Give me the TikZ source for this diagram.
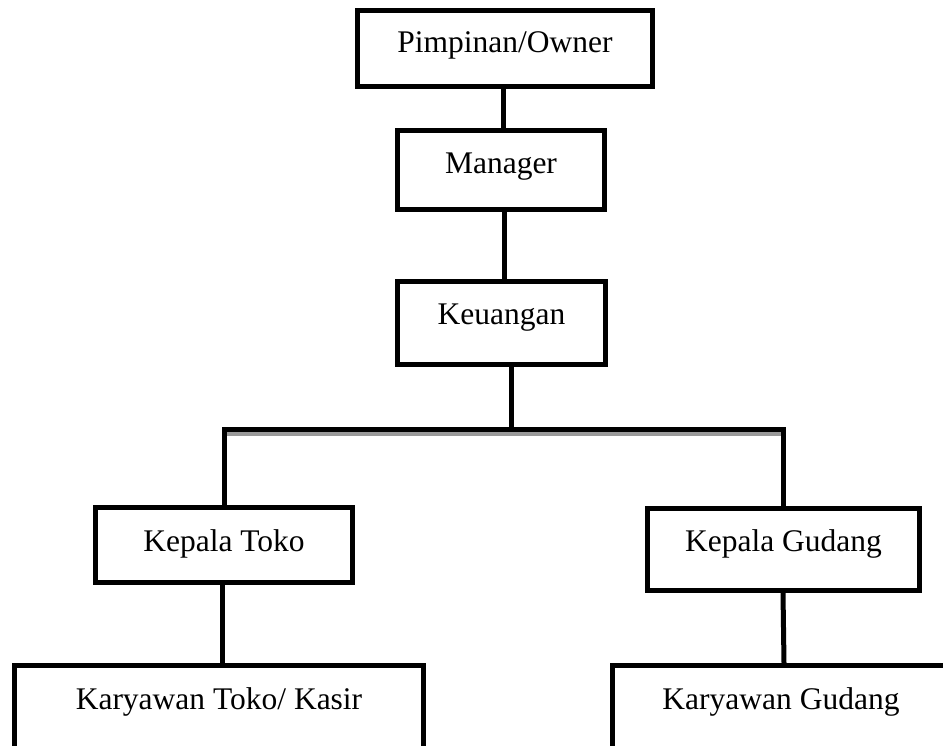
\documentclass[tikz,border=0pt]{standalone}
\usepackage{fontspec}
\setmainfont{Liberation Serif}
\begin{document}
\begin{tikzpicture}[x=1bp,y=-1bp,
  orgbox/.style={draw, line width=5bp, line join=miter, inner sep=0pt, text height=22bp,
    font=\fontsize{31.5bp}{36bp}\selectfont},
  link/.style={line width=5bp},
  shadowline/.style={draw=black!40, line width=4bp}]
\useasboundingbox (0,0) rectangle (943,746);
\clip (0,0) rectangle (943,746);

\node[orgbox, minimum width=295bp, minimum height=76bp, text depth=13bp] (own) at (505,48.5) {Pimpinan/Owner};
\node[orgbox, minimum width=207bp, minimum height=79bp, text depth=16bp] (man) at (501,170) {Manager};
\node[orgbox, minimum width=208bp, minimum height=83bp, text depth=20bp] (keu) at (501.5,323) {Keuangan};
\node[orgbox, minimum width=257bp, minimum height=75bp, text depth=10bp] (kt) at (224,545) {Kepala Toko};
\node[orgbox, minimum width=272bp, minimum height=82bp, text depth=19bp] (kg) at (783.5,549.5) {Kepala Gudang};
\node[orgbox, minimum width=409bp, minimum height=92bp, text depth=27bp] (kyt) at (219,711.5) {Karyawan Toko/ Kasir};
\node[orgbox, minimum width=337bp, minimum height=92bp, text depth=27bp] (kyg) at (781,711.5) {Karyawan Gudang};

\coordinate (bar) at (511,429.5);

% connectors
\draw[link] (own.south -| 503,0) -- (man.north -| 503,0);
\draw[link] (man.south -| 504,0) -- (keu.north -| 504,0);
\draw[link] (keu.south -| bar) -- (bar);
\draw[shadowline] ([yshift=-4.5bp]kt.north |- bar) -- ([yshift=-4.5bp]kg.north |- bar);
\draw[link] (kt.north) |- (bar) -| (kg.north);
\draw[link] (kt.south -| 222,0) -- (kyt.north -| 222,0);
\draw[link] (kg.south -| 783,0) -- (kyg.north -| 784,0);
\end{tikzpicture}
\end{document}
